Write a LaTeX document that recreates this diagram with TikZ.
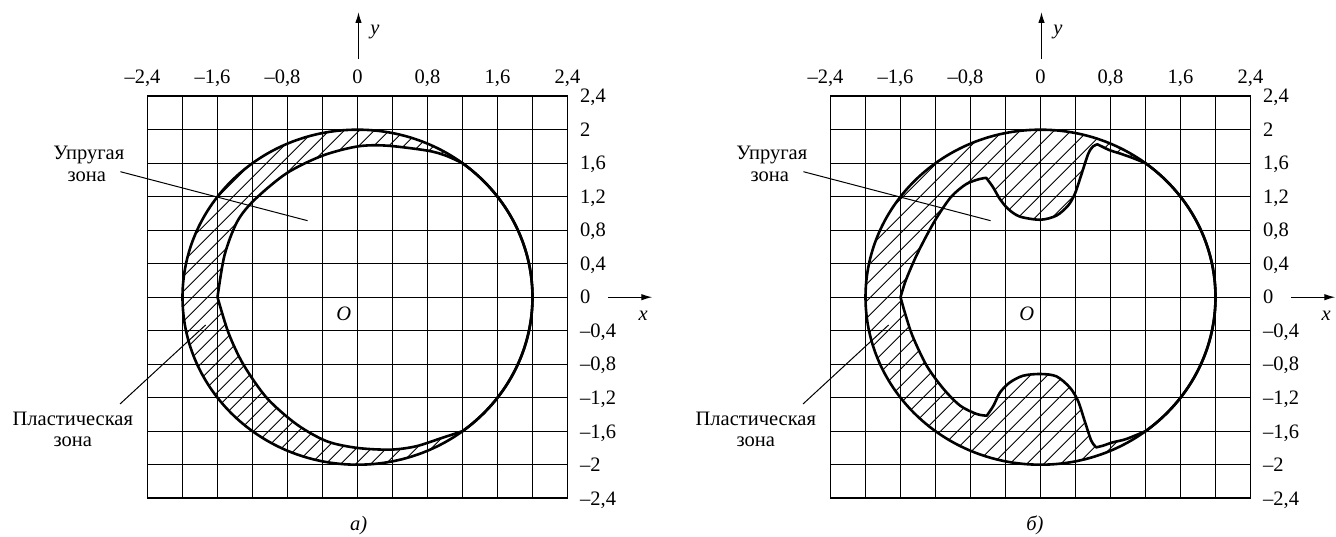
\documentclass[tikz,border=0pt]{standalone}
\usepackage{fontspec}
\setmainfont{Liberation Serif}
\usetikzlibrary{arrows.meta}
\begin{document}
\begin{tikzpicture}[x=1pt,y=1pt,
  lbl/.style={font=\fontsize{20.5}{24}\selectfont, inner sep=0pt, anchor=base},
  ytick/.style={lbl, anchor=base west},
  gridln/.style={line width=1.1pt},
  border/.style={line width=1.6pt},
  curve/.style={line width=2.6pt, line join=round},
  hatchln/.style={line width=0.85pt},
  leader/.style={line width=1pt},
  axisarrow/.style={line width=1.2pt, -{Latex[length=11pt,width=6.5pt]}}]
\fill[white] (0,0) rectangle (1336,536);
\useasboundingbox (0,0) rectangle (1336,536);

\def\shapeA{plot[smooth] coordinates {(1.2,1.6) (1.01,1.69) (0.8,1.75) (0.33,1.81) (0,1.80) (-0.4,1.69) (-0.81,1.48) (-1.18,1.16) (-1.376,0.90) (-1.52,0.50) (-1.6,0)}
 -- plot[smooth] coordinates {(-1.6,0) (-1.473,-0.43) (-1.303,-0.806) (-1.034,-1.206) (-0.693,-1.52) (-0.351,-1.72) (0,-1.80) (0.38,-1.82) (0.67,-1.78) (0.966,-1.68) (1.2,-1.6)}
 arc[start angle=-53.13, end angle=53.13, radius=2] -- cycle}

\def\shapeB{plot[smooth] coordinates {(1.2,1.6) (1.06,1.66) (0.91,1.715) (0.79,1.755) (0.70,1.80) (0.65,1.825)}
 -- plot[smooth] coordinates {(0.65,1.825) (0.60,1.80) (0.546,1.714) (0.47,1.474) (0.393,1.235) (0.316,1.095) (0.183,0.975) (0,0.925) (-0.237,0.963) (-0.371,1.055) (-0.466,1.175) (-0.543,1.314) (-0.62,1.425)}
 -- plot[smooth] coordinates {(-0.62,1.425) (-0.70,1.41) (-0.85,1.35) (-1.02,1.2) (-1.18,0.96) (-1.31,0.72) (-1.43,0.47) (-1.54,0.2) (-1.6,0)}
 -- plot[smooth] coordinates {(-1.6,0) (-1.54,-0.22) (-1.46,-0.47) (-1.3,-0.82) (-1.107,-1.097) (-0.917,-1.296) (-0.728,-1.395) (-0.614,-1.415)}
 -- plot[smooth] coordinates {(-0.614,-1.415) (-0.538,-1.296) (-0.462,-1.136) (-0.349,-1.017) (-0.197,-0.937) (0,-0.917) (0.182,-0.945) (0.334,-1.077) (0.428,-1.236) (0.504,-1.475) (0.58,-1.713) (0.637,-1.793)}
 -- plot[smooth] coordinates {(0.637,-1.793) (0.713,-1.773) (0.826,-1.733) (0.978,-1.694) (1.2,-1.6)}
 arc[start angle=-53.13, end angle=53.13, radius=2] -- cycle}

% ---------- panel a shapes ----------
\begin{scope}[shift={(357.5pt,238.8pt)}, x=87.5pt, y=83.75pt]
  \begin{scope}[even odd rule]
    \clip (0,0) circle[radius=2] \shapeA;
    \foreach \k in {-26,...,26} \draw[hatchln] ({\k*15pt-250pt},-250pt) -- ++(500pt,500pt);
  \end{scope}
  \foreach \i in {-6,...,6} {
    \draw[gridln] (\i*0.4,-2.4) -- (\i*0.4,2.4);
    \draw[gridln] (-2.4,\i*0.4) -- (2.4,\i*0.4);
  }
  \draw[border] (-2.4,-2.4) rectangle (2.4,2.4);
  \draw[curve] (0,0) circle[radius=2];
  \draw[curve] \shapeA;
\end{scope}

% ---------- panel b shapes ----------
\begin{scope}[shift={(1040.5pt,238.8pt)}, x=87.5pt, y=83.75pt]
  \begin{scope}[even odd rule]
    \clip (0,0) circle[radius=2] \shapeB;
    \foreach \k in {-24,...,24} \draw[hatchln] ({\k*17pt-250pt},-250pt) -- ++(500pt,500pt);
  \end{scope}
  \foreach \i in {-6,...,6} {
    \draw[gridln] (\i*0.4,-2.4) -- (\i*0.4,2.4);
    \draw[gridln] (-2.4,\i*0.4) -- (2.4,\i*0.4);
  }
  \draw[border] (-2.4,-2.4) rectangle (2.4,2.4);
  \draw[curve] (0,0) circle[radius=2];
  \draw[curve] \shapeB;
\end{scope}

% ---------- labels, axes, leaders ----------
\foreach \p/\OX/\cap/\cdx in {a/357.5/а)/1.2, b/1040.5/б)/-5.6} {
  \foreach \i/\t/\dx in {-3/{–2,4}/-5, -2/{–1,6}/-5, -1/{–0,8}/-5, 0/0/0, 1/{0,8}/0, 2/{1,6}/0, 3/{2,4}/0}
    \node[lbl] (xt\p\i) at ({\OX+\i*70+\dx},452) {\t};
  \foreach \j/\t in {6/{2,4}, 5/2, 4/{1,6}, 3/{1,2}, 2/{0,8}, 1/{0,4}, 0/0, -1/{–0,4}, -2/{–0,8}, -3/{–1,2}, -4/{–1,6}, -5/–2, -6/{–2,4}}
    \node[ytick] (yt\p\j) at ({\OX+222.5},{238.8+\j*33.5-6.8}) {\t};
  \coordinate (ys\p) at ({\OX+1},477);
  \coordinate (ye\p) at ({\OX+1},524);
  \draw[axisarrow] (ys\p) -- (ye\p);
  \node[lbl] (ylab\p) at ({\OX+17.5},501.5) {\itshape y};
  \coordinate (xs\p) at ({\OX+250.8},238.8);
  \coordinate (xe\p) at ({\OX+294.8},238.8);
  \draw[axisarrow] (xs\p) -- (xe\p);
  \node[lbl] (xlab\p) at ({\OX+285.6},215.3) {\itshape x};
  \node[lbl] (O\p) at ({\OX-13.7},215.3) {\itshape O};
  \node[lbl] (cap\p) at ({\OX+\cdx},6) {\itshape\cap};
  \node[lbl] (el1\p) at ({\OX-268.7},376.5) {Упругая};
  \node[lbl] (el2\p) at ({\OX-270.7},354.4) {зона};
  \node[lbl] (pl1\p) at ({\OX-284.7},111) {Пластическая};
  \node[lbl] (pl2\p) at ({\OX-284.7},89.3) {зона};
  \coordinate (els\p) at ({\OX-237.1},364.3);
  \coordinate (ele\p) at ({\OX-49.9},315.3);
  \draw[leader] (els\p) -- (ele\p);
  \coordinate (pls\p) at ({\OX-237.5},132);
  \coordinate (ple\p) at ({\OX-151.9},211);
  \draw[leader] (pls\p) -- (ple\p);
}
\end{tikzpicture}
\end{document}
